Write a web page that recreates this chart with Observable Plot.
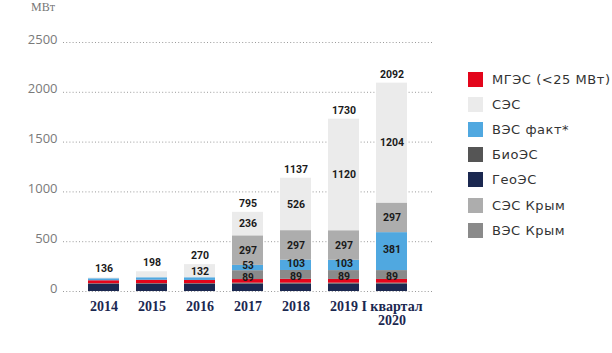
<!DOCTYPE html>
<html>
<head>
<meta charset="utf-8">
<script src="https://cdn.jsdelivr.net/npm/d3@7"></script>
<script src="https://cdn.jsdelivr.net/npm/@observablehq/plot@0.6"></script>
<style>
  html, body { margin: 0; padding: 0; background: #fff; }
  #wrap { position: relative; width: 612px; height: 353px; overflow: hidden; }
  #chart { position: absolute; left: 0; top: 0; }
  #unit { position: absolute; left: 31px; top: 0px; font: 12px "Liberation Serif", serif; color: #777; }
  #legend { position: absolute; left: 468px; top: 67px; font: 13px "DejaVu Sans", sans-serif; color: #333; letter-spacing: 0.55px; }
  .item { display: flex; align-items: center; height: 25.1px; white-space: nowrap; }
  .sw { width: 15px; height: 15px; margin-right: 9px; flex: none; }
</style>
</head>
<body>
<div id="wrap">
  <div id="chart"></div>
  <div id="unit">МВт</div>
  <div id="legend"></div>
</div>
<script>
// Categories
const years = ["2014", "2015", "2016", "2017", "2018", "2019", "I квартал\n2020"];

// Series (stack order bottom -> top)
const geo      = [74, 74, 74, 74, 74, 74, 74];        // ГеоЭС
const bio      = [4, 5, 5, 10, 10, 10, 10];           // БиоЭС
const mges     = [30, 34, 32, 36, 38, 37, 37];        // МГЭС (<25 МВт)
const wesCrimea = [0, 0, 0, 89, 89, 89, 89];          // ВЭС Крым
const wesFact  = [20, 25, 27, 53, 103, 103, 381];     // ВЭС факт*
const sesCrimea = [0, 0, 0, 297, 297, 297, 297];      // СЭС Крым
const ses      = [8, 60, 132, 236, 526, 1120, 1204];  // СЭС

const yTicks = [0, 500, 1000, 1500, 2000, 2500];

const seriesNames = ["ГеоЭС", "БиоЭС", "МГЭС (<25 МВт)", "ВЭС Крым", "ВЭС факт*", "СЭС Крым", "СЭС"];
const seriesValues = [geo, bio, mges, wesCrimea, wesFact, sesCrimea, ses];
const seriesColors = ["#1b2850", "#555555", "#e3051b", "#8a8a8a", "#50a8e0", "#adadad", "#ebebeb"];
const legendOrder = ["МГЭС (<25 МВт)", "СЭС", "ВЭС факт*", "БиоЭС", "ГеоЭС", "СЭС Крым", "ВЭС Крым"];

const rows = [];
seriesNames.forEach((s, si) => {
  years.forEach((y, yi) => rows.push({year: y, series: s, value: seriesValues[si][yi]}));
});
const totals = years.map((y, yi) => ({year: y, total: d3.sum(seriesValues, arr => arr[yi])}));

const labelFont = {fontSize: 10.5, fontWeight: 700, fill: "#1a1a1a", fontFamily: "Roboto, sans-serif"};
// segment labels, one mark per group so small neighbouring segments can be nudged apart
const segLabels = (pick, dy, extra = {}) => Plot.text(rows, Plot.stackY({
  x: "year", y: "value", z: "series", order: seriesNames,
  text: d => pick(d) ? String(d.value) : "", dy, ...labelFont, ...extra
}));

const chart = Plot.plot({
  width: 460,
  height: 353,
  marginLeft: 63,
  marginRight: 28,
  marginTop: 42,
  marginBottom: 62,
  style: {background: "transparent", fontFamily: "Open Sans, sans-serif"},
  x: {domain: years, paddingInner: 0.35, paddingOuter: 0.46, axis: null},
  y: {domain: [0, 2500], axis: null},
  color: {domain: seriesNames, range: seriesColors},
  marks: [
    Plot.ruleY(yTicks, {stroke: "#9a9a9a", strokeDasharray: "1,2.2", strokeWidth: 1}),
    Plot.axisY(yTicks, {tickSize: 0, tickPadding: 6, fontSize: 13, fill: "#7a7a7a", dy: -3, fontFamily: "Open Sans, sans-serif", tickFormat: d => String(d), label: null}),
    Plot.axisX({tickSize: 0, tickPadding: 10, fontSize: 14, fontWeight: "bold", fill: "#1b2850", fontFamily: "Liberation Serif, serif", label: null}),
    Plot.barY(rows, {x: "year", y: "value", fill: "series", z: "series", order: seriesNames}),
    segLabels(d => d.series === "ВЭС Крым" && d.value > 0 && d.year === "2017", 2.5, {fontSize: 10}),
    segLabels(d => d.series === "ВЭС Крым" && d.value > 0 && d.year !== "2017", 1.5),
    segLabels(d => d.series === "ВЭС факт*" && d.value >= 50 && d.value < 100, -2.5, {fontSize: 10}),
    segLabels(d => d.series === "ВЭС факт*" && d.value >= 100, -1.5),
    segLabels(d => d.series === "СЭС Крым" && d.value > 0, 0),
    segLabels(d => d.series === "СЭС" && d.value >= 100, 0),
    Plot.text(totals, {x: "year", y: "total", text: d => String(d.total), dy: -9, ...labelFont})
  ]
});
document.getElementById("chart").appendChild(chart);

const legend = document.getElementById("legend");
legendOrder.forEach(name => {
  const item = document.createElement("div");
  item.className = "item";
  const sw = document.createElement("span");
  sw.className = "sw";
  sw.style.background = seriesColors[seriesNames.indexOf(name)];
  const label = document.createElement("span");
  label.textContent = name;
  item.appendChild(sw);
  item.appendChild(label);
  legend.appendChild(item);
});
</script>
</body>
</html>
